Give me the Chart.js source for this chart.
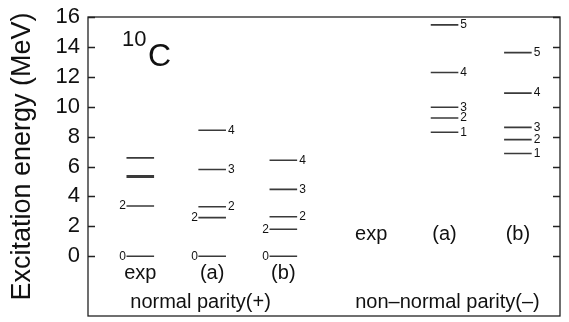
<!DOCTYPE html>
<html>
<head>
<meta charset="utf-8">
<script src="https://cdn.jsdelivr.net/npm/chart.js@4"></script>
<style>
  html, body { margin: 0; padding: 0; background: #fff; }
  #wrap { width: 569px; height: 322px; position: relative; }
</style>
</head>
<body>
<div id="wrap"><canvas id="levels"></canvas></div>
<script>
// spectrum columns: name, horizontal position and parity group
const columnNames = ['exp', '(a)', '(b)', 'exp', '(a)', '(b)'];
const columnX = [0.72, 1.71, 2.69, 3.9, 4.91, 5.92];
const groupNames = ['normal parity(+)', 'non\u2013normal parity(\u2013)'];
const groupX = [1.55, 4.95];

// level energies (MeV) and the spin tags printed left / right of each level
const expPlus = [0, 3.354, 5.28, 5.38, 6.58];
const expPlusLeft = ['0', '2', '', '', ''];
const expPlusRight = ['', '', '', '', ''];

const calcAPlus = [0, 2.58, 3.31, 5.8, 8.42];
const calcAPlusLeft = ['0', '2', '', '', ''];
const calcAPlusRight = ['', '', '2', '3', '4'];

const calcBPlus = [0, 1.8, 2.64, 4.47, 6.42];
const calcBPlusLeft = ['0', '2', '', '', ''];
const calcBPlusRight = ['', '', '2', '3', '4'];

const expMinus = [];
const expMinusLeft = [];
const expMinusRight = [];

const calcAMinus = [8.29, 9.24, 9.96, 12.29, 15.47];
const calcAMinusLeft = ['', '', '', '', ''];
const calcAMinusRight = ['1', '2', '3', '4', '5'];

const calcBMinus = [6.87, 7.8, 8.62, 10.91, 13.62];
const calcBMinusLeft = ['', '', '', '', ''];
const calcBMinusRight = ['1', '2', '3', '4', '5'];

const yTicks = [0, 2, 4, 6, 8, 10, 12, 14, 16];

const levelSets = [
  { e: expPlus, left: expPlusLeft, right: expPlusRight },
  { e: calcAPlus, left: calcAPlusLeft, right: calcAPlusRight },
  { e: calcBPlus, left: calcBPlusLeft, right: calcBPlusRight },
  { e: expMinus, left: expMinusLeft, right: expMinusRight },
  { e: calcAMinus, left: calcAMinusLeft, right: calcAMinusRight },
  { e: calcBMinus, left: calcBMinusLeft, right: calcBMinusRight }
];

const halfWidth = 0.19;
const FONT = '"Liberation Sans", Arial, Helvetica, sans-serif';

// each level is a short horizontal segment; a null point breaks the line
const datasets = levelSets.map(function (set, i) {
  const pts = [];
  set.e.forEach(function (e) {
    pts.push({ x: columnX[i] - halfWidth, y: e });
    pts.push({ x: columnX[i] + halfWidth, y: e });
    pts.push({ x: columnX[i], y: null });
  });
  return {
    label: columnNames[i],
    data: pts,
    showLine: true,
    spanGaps: false,
    borderColor: '#3a3a3a',
    borderWidth: 1.6,
    pointRadius: 0
  };
});

// frame, inward ticks, level tags and the text around the spectra
const decorations = {
  id: 'decorations',
  afterDatasetsDraw(chart) {
    const ctx = chart.ctx;
    const area = chart.chartArea;
    const xs = chart.scales.x;
    const ys = chart.scales.y;
    ctx.save();

    ctx.strokeStyle = '#222';
    ctx.lineWidth = 1.3;
    ctx.strokeRect(area.left, area.top, area.right - area.left, area.bottom - area.top);

    yTicks.forEach(function (v) {
      const py = Math.round(ys.getPixelForValue(v)) + 0.5;
      ctx.beginPath();
      ctx.moveTo(area.left, py); ctx.lineTo(area.left + 7, py);
      ctx.moveTo(area.right, py); ctx.lineTo(area.right - 7, py);
      ctx.stroke();
    });

    ctx.fillStyle = '#111';
    ctx.textBaseline = 'middle';
    ctx.font = '12px ' + FONT;
    levelSets.forEach(function (set, i) {
      const x1 = xs.getPixelForValue(columnX[i] - halfWidth);
      const x2 = xs.getPixelForValue(columnX[i] + halfWidth);
      set.e.forEach(function (e, k) {
        const py = ys.getPixelForValue(e);
        if (set.left[k]) {
          ctx.textAlign = 'right';
          ctx.fillText(set.left[k], x1 - 0.5, py);
        }
        if (set.right[k]) {
          ctx.textAlign = 'left';
          ctx.fillText(set.right[k], x2 + 2, py);
        }
      });
    });

    ctx.textAlign = 'center';
    ctx.font = '20px ' + FONT;
    columnNames.forEach(function (name, i) {
      const y = i < 3 ? -1.15 : 1.45;
      ctx.fillText(name, xs.getPixelForValue(columnX[i]), ys.getPixelForValue(y));
    });
    groupNames.forEach(function (name, i) {
      ctx.fillText(name, xs.getPixelForValue(groupX[i]), ys.getPixelForValue(-3.1));
    });

    // nucleus label
    ctx.textAlign = 'left';
    ctx.textBaseline = 'alphabetic';
    ctx.font = '22px ' + FONT;
    ctx.fillText('10', area.left + 34, area.top + 29);
    ctx.font = '32px ' + FONT;
    ctx.fillText('C', area.left + 60, area.top + 49);

    // y axis title
    ctx.translate(23, (area.top + area.bottom) / 2 - 10);
    ctx.rotate(-Math.PI / 2);
    ctx.textAlign = 'center';
    ctx.textBaseline = 'middle';
    ctx.font = '27px ' + FONT;
    ctx.fillText('Excitation energy (MeV)', 0, 0);
    ctx.restore();
  }
};

new Chart(document.getElementById('levels'), {
  type: 'scatter',
  data: { datasets: datasets },
  options: {
    responsive: true,
    maintainAspectRatio: false,
    animation: false,
    layout: { padding: { left: 0, top: 17, right: 9, bottom: 6 } },
    plugins: { legend: { display: false }, tooltip: { enabled: false } },
    scales: {
      x: { type: 'linear', min: 0, max: 6.5, display: false },
      y: {
        type: 'linear',
        min: -4,
        max: 16,
        grid: { display: false, drawTicks: false },
        border: { display: false },
        afterBuildTicks(scale) {
          scale.ticks = yTicks.map(function (v) { return { value: v }; });
        },
        afterFit(scale) {
          scale.width = 88;
          scale.paddingTop = 0;
          scale.paddingBottom = 0;
        },
        ticks: {
          padding: 8,
          color: '#111',
          font: { family: FONT, size: 22 }
        }
      }
    }
  },
  plugins: [decorations]
});
</script>
</body>
</html>
